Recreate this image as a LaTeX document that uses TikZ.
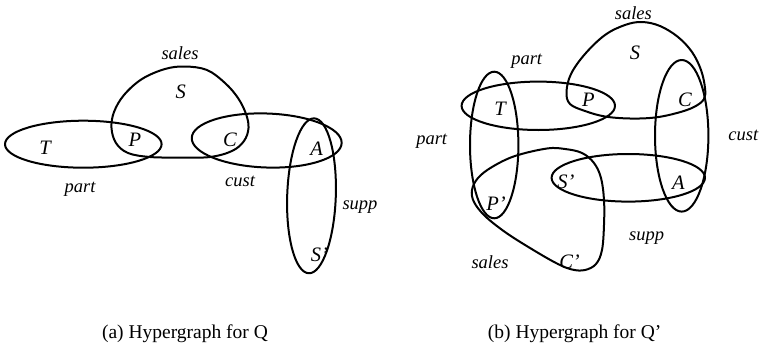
\documentclass[tikz,border=0pt]{standalone}
\usepackage{fontspec}
\setmainfont{Liberation Serif}
\usetikzlibrary{positioning}
\tikzset{
  hedge/.style={line width=2pt, line join=round},
  vlab/.style ={font=\fontsize{20.5}{22}\selectfont\itshape, inner sep=0pt},
  elab/.style ={font=\fontsize{18.5}{21}\selectfont\itshape, inner sep=0pt},
  capt/.style ={font=\fontsize{19.5}{22}\selectfont, inner sep=0pt},
}

\begin{document}
\begin{tikzpicture}[x=1pt, y=-1pt]
  \useasboundingbox (0,0) rectangle (761,351);
  % (a) hypergraph for Q
  \draw[hedge] (83.3,144.2) ellipse [x radius=78.3, y radius=23.5];
  \draw[hedge, shift={(266.7,140.5)}, rotate=-2] (0,0)
    ellipse [x radius=75, y radius=27];
  \draw[hedge, shift={(311.5,195.8)}, rotate=-2] (0,0)
    ellipse [x radius=24.3, y radius=77.5];
  \draw[hedge] plot[smooth cycle, tension=0.6] coordinates {
    (180,157.5) (150,157) (128,153) (116,143) (111.5,128) (114,112)
    (124,95) (142,79) (165,69) (185,66.5) (207,70) (225,83) (238,98)
    (246,114) (248.5,128) (244,141) (232,151) (210,157)};
  \node[vlab] (aS)  at (180.7,91.7)  {S};
  \node[vlab] (aT)  at (45,147.3)    {T};
  \node[vlab] (aP)  at (135,140)     {P};
  \node[vlab] (aC)  at (230,140)     {C};
  \node[vlab] (aA)  at (316.7,148.3) {A};
  \node[vlab] (aS2) at (319.5,255)   {S’};
  \node[elab] (asales) at (180,52.7)   {sales};
  \node[elab] (apart)  at (80,189)     {part};
  \node[elab] (acust)  at (240,181.7)  {cust};
  \node[elab] (asupp)  at (360,206.7)  {supp};
  \node[capt] (capa) at (185,334) {(a) Hypergraph for Q};

  % (b) hypergraph for Q'
  \draw[hedge] (538.3,105.8) ellipse [x radius=76.7, y radius=24.2];
  \draw[hedge] (494.2,145) ellipse [x radius=24.2, y radius=73.3];
  \draw[hedge] (681.7,135.8) ellipse [x radius=26.7, y radius=75.8];
  \draw[hedge] (628.3,177.8) ellipse [x radius=76.7, y radius=23.8];
  \draw[hedge] plot[smooth cycle, tension=0.6] coordinates {
    (570,104) (566.5,92) (571,74) (585,54) (605,35) (625,25) (642,22)
    (660,26) (678,37) (692,52) (701,70) (705,88) (704,99) (694,107)
    (677,113) (655,117.5) (630,118.5) (605,116.5) (585,111)};
  \draw[hedge] plot[smooth cycle, tension=0.6] coordinates {
    (547,148.5) (565,149) (582,153) (594,163) (601,178) (604,200)
    (604,225) (602,250) (596,264) (585,270) (572,269.5) (556,263)
    (530,248) (505,232) (485,216) (474,202) (472,190) (478,178)
    (492,167) (515,156)};
  \node[vlab] (bS)  at (635,53.3)    {S};
  \node[vlab] (bT)  at (500,108.3)   {T};
  \node[vlab] (bP)  at (588.3,100)   {P};
  \node[vlab] (bC)  at (685,100)     {C};
  \node[vlab] (bS2) at (566,181.7)   {S’};
  \node[vlab] (bA)  at (678.3,182.7) {A};
  \node[vlab] (bP2) at (496,203.3)   {P’};
  \node[vlab] (bC2) at (569.5,261.7) {C’};
  \node[elab] (bsales)  at (633.3,13.3)  {sales};
  \node[elab] (bpartT)  at (526.7,61.7)  {part};
  \node[elab] (bpartL)  at (431.7,141.7) {part};
  \node[elab] (bcust)   at (743.3,135)   {cust};
  \node[elab] (bsupp)   at (646.7,238.3) {supp};
  \node[elab] (bsales2) at (490,261.7)   {sales};
  \node[capt] (capb) at (574.7,334) {(b) Hypergraph for Q’};
\end{tikzpicture}
\end{document}
